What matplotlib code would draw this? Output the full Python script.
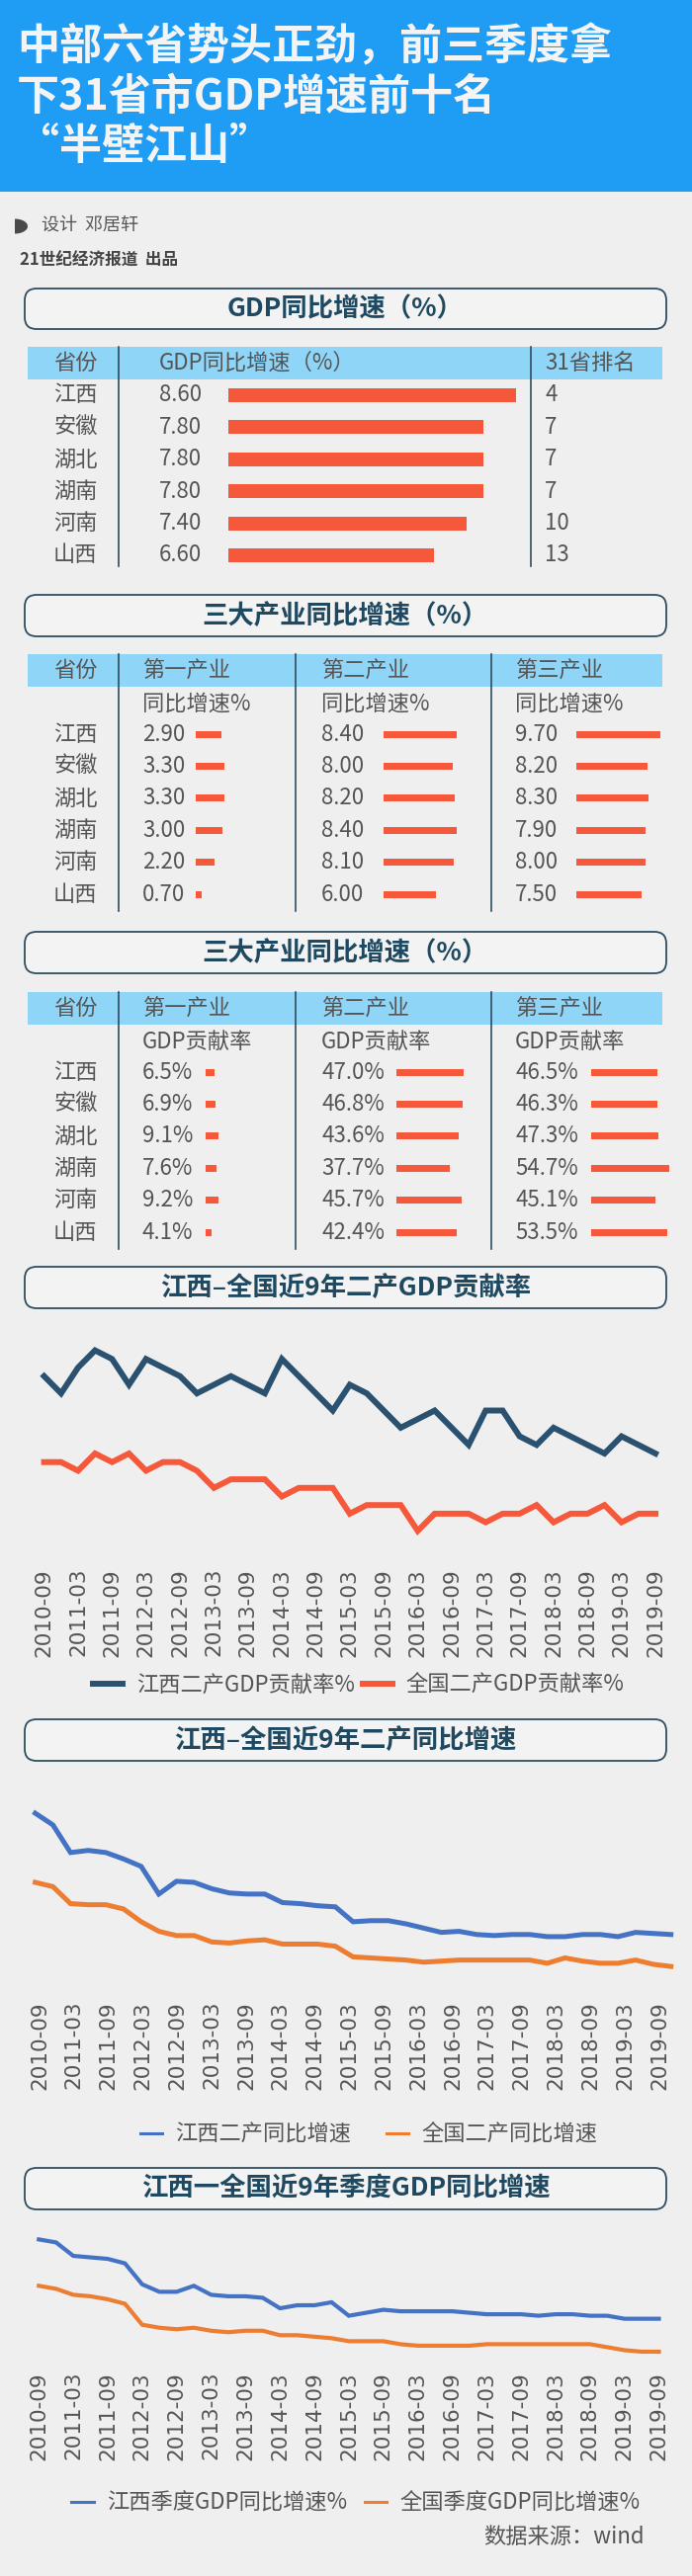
import numpy as np
import matplotlib
matplotlib.use("Agg")
import matplotlib.pyplot as plt
from matplotlib.patches import FancyBboxPatch, Rectangle
from matplotlib.lines import Line2D

plt.rcParams['font.family'] = ['Noto Sans CJK SC', 'DejaVu Sans']

# ---- data ----
provinces = ['江西', '安徽', '湖北', '湖南', '河南', '山西']
gdp_growth = [8.60, 7.80, 7.80, 7.80, 7.40, 6.60]
gdp_rank = [4, 7, 7, 7, 10, 13]

primary_growth = [2.90, 3.30, 3.30, 3.00, 2.20, 0.70]
secondary_growth = [8.40, 8.00, 8.20, 8.40, 8.10, 6.00]
tertiary_growth = [9.70, 8.20, 8.30, 7.90, 8.00, 7.50]

primary_contrib = [6.5, 6.9, 9.1, 7.6, 9.2, 4.1]
secondary_contrib = [47.0, 46.8, 43.6, 37.7, 45.7, 42.4]
tertiary_contrib = [46.5, 46.3, 47.3, 54.7, 45.1, 53.5]

tick_labels = ['2010-09', '2011-03', '2011-09', '2012-03', '2012-09', '2013-03',
               '2013-09', '2014-03', '2014-09', '2015-03', '2015-09', '2016-03',
               '2016-09', '2017-03', '2017-09', '2018-03', '2018-09', '2019-03',
               '2019-09']

# quarterly, 2010-09 .. 2019-09
jx_ind_contrib = [55, 53, 56, 58, 57, 54, 57, 56, 55, 53, 54, 55, 54, 53, 57, 55,
                  53, 51, 54, 53, 51, 49, 50, 51, 49, 47, 51, 51, 48, 47, 49, 48,
                  47, 46, 48, 47, 46]
cn_ind_contrib = [45, 45, 44, 46, 45, 46, 44, 45, 45, 44, 42, 43, 43, 43, 41, 42,
                  42, 42, 39, 40, 40, 40, 37, 39, 39, 39, 38, 39, 39, 40, 38, 39,
                  39, 40, 38, 39, 39]

# secondary industry growth, sampled roughly every quarter
jx_ind_growth = [20.0, 18.9, 16.3, 16.5, 16.3, 15.7, 15.0, 12.4, 13.6, 13.5, 12.9,
                 12.5, 12.4, 12.4, 11.6, 11.5, 11.3, 11.2, 9.8, 9.9, 9.9, 9.6, 9.2,
                 8.8, 8.9, 8.6, 8.5, 8.6, 8.6, 8.4, 8.4, 8.6, 8.6, 8.4, 8.8, 8.7, 8.6]
cn_ind_growth = [13.5, 13.1, 11.5, 11.4, 11.4, 11.0, 9.8, 8.9, 8.5, 8.5, 7.9, 7.8,
                 8.0, 8.1, 7.7, 7.7, 7.7, 7.5, 6.5, 6.4, 6.3, 6.2, 6.0, 6.1, 6.2,
                 6.2, 6.2, 6.2, 6.2, 5.9, 6.4, 6.1, 5.9, 5.9, 6.2, 5.8, 5.6]

jx_gdp_q = [13.7, 13.5, 12.6, 12.5, 12.4, 12.1, 10.7, 10.2, 10.2, 10.6, 10.0, 9.9,
            9.9, 9.8, 9.1, 9.3, 9.3, 9.5, 8.6, 8.8, 9.0, 8.9, 8.9, 8.9, 8.9, 8.8,
            8.7, 8.7, 8.7, 8.6, 8.7, 8.7, 8.6, 8.6, 8.4, 8.4, 8.4]
cn_gdp_q = [10.6, 10.4, 10.0, 9.9, 9.7, 9.4, 8.0, 7.8, 7.7, 7.8, 7.6, 7.5, 7.6,
            7.6, 7.3, 7.3, 7.2, 7.1, 6.9, 6.9, 6.9, 6.7, 6.6, 6.6, 6.6, 6.6, 6.7,
            6.7, 6.7, 6.7, 6.7, 6.7, 6.7, 6.5, 6.3, 6.2, 6.2]

# ---- style ----
W, H = 700, 2607
BG = '#efefef'
HEAD = '#1f9cf4'
BAND = '#8fd5f7'
DARK = '#2e4d60'
TITLE_C = '#1e4961'
TXT = '#555555'
RED = '#f5583a'
NAVY = '#2a5270'
XL_BLUE = '#4472c4'
XL_ORANGE = '#ed7d31'

fig = plt.figure(figsize=(W / 100, H / 100), dpi=100, facecolor=BG)
bg = fig.add_axes([0, 0, 1, 1])
bg.set_xlim(0, W)
bg.set_ylim(H, 0)
bg.axis('off')


def px_axes(x0, y0, x1, y1):
    return fig.add_axes([x0 / W, 1 - y1 / H, (x1 - x0) / W, (y1 - y0) / H])


def section_box(y0, y1, title):
    bg.add_patch(FancyBboxPatch((25, y0), 649, y1 - y0,
                                boxstyle='round,pad=0,rounding_size=12',
                                fc='#f3f3f3', ec=DARK, lw=1.3))
    bg.text(349.5, (y0 + y1) / 2, title, ha='center', va='center',
            fontsize=19, fontweight='bold', color=TITLE_C)


def t(x, y, s, **kw):
    kw.setdefault('fontsize', 16)
    kw.setdefault('color', TXT)
    bg.text(x, y, s, ha=kw.pop('ha', 'left'), va='center', **kw)


def bar_col(x0, width, lo, px_per_unit, row0, step, values, bar_h):
    ax = px_axes(x0, row0 - step / 2, x0 + width, row0 + step * 5.5)
    ax.barh(range(len(values)), values, height=bar_h / step, color=RED)
    ax.set_xlim(lo, lo + width / px_per_unit)
    ax.set_ylim(5.5, -0.5)
    ax.axis('off')


# ---- header ----
bg.add_patch(Rectangle((0, 0), W, 194, color=HEAD, lw=0))
for yy, line in zip([47, 98, 148], ['中部六省势头正劲，前三季度拿',
                                    '下31省市GDP增速前十名', '“半壁江山”']):
    bg.text(17, yy, line, ha='left', va='center', fontsize=31,
            fontweight='bold', color='#f4f4f4')

th = np.linspace(-np.pi / 2, np.pi / 2, 40)
bg.fill(np.r_[15, 15 + 13 * np.cos(th)], np.r_[229, 229 + 7.5 * np.sin(th)],
        color='#4a4a4a', lw=0)
t(42, 229, '设计  邓居轩', fontsize=13)
t(20, 264, '21世纪经济报道  出品', fontsize=12, fontweight='bold', color='#444444')

# ---- section 1 ----
section_box(292, 333, 'GDP同比增速（%）')
bg.add_patch(Rectangle((28, 351), 642, 33, color=BAND, lw=0))
t(54, 367, '省份')
t(161, 367, 'GDP同比增速（%）')
t(551, 367, '31省排名')
for x in [120, 537]:
    bg.plot([x, x], [351, 573], color=DARK, lw=1.2)
row0, step = 400, 32.4
for i, p in enumerate(provinces):
    y = row0 + i * step
    t(54, y, p)
    t(161, y, f'{gdp_growth[i]:.2f}')
    t(551, y, str(gdp_rank[i]))
bar_col(231, 300, 1.6, 41.6, row0, step, gdp_growth, 14)


# ---- sections 2 & 3 ----
def industry_table(y_box, y_band, sub, row0, cols, bar_x, ppu, fmt):
    section_box(y_box, y_box + 42, '三大产业同比增速（%）')
    bg.add_patch(Rectangle((28, y_band), 642, 33, color=BAND, lw=0))
    t(54, y_band + 16.5, '省份')
    for x, name in zip([144, 325, 521], ['第一产业', '第二产业', '第三产业']):
        t(x, y_band + 16.5, name)
        t(x, y_band + 50, sub)
    for x in [120, 299, 497]:
        bg.plot([x, x], [y_band, row0 + 5 * 32.4 + 17], color=DARK, lw=1.2)
    for i, p in enumerate(provinces):
        t(54, row0 + i * 32.4, p)
    for x, bx, vals in zip([144, 325, 521], bar_x, cols):
        for i, v in enumerate(vals):
            t(x, row0 + i * 32.4, fmt.format(v))
        bar_col(bx, 100, 0, ppu, row0, 32.4, vals, 7)


industry_table(602, 662, '同比增速%', 743,
               [primary_growth, secondary_growth, tertiary_growth],
               [198, 387.5, 582.6], 8.85, '{:.2f}')
industry_table(943, 1004, 'GDP贡献率', 1085,
               [primary_contrib, secondary_contrib, tertiary_contrib],
               [207.6, 401, 598], 1.44, '{:.1f}%')


# ---- line charts ----
def line_panel(box, title, rect, xlim, ylim, xs, series, colors, labels, lw,
               tick_pos, leg_xy, leg_kw, handle_lw):
    section_box(box, box + 42, title)
    ax = px_axes(*rect)
    ax.set_facecolor('none')
    for ys, c in zip(series, colors):
        ax.plot(xs, ys, color=c, lw=lw, solid_joinstyle='miter')
    ax.set_xlim(*xlim)
    ax.set_ylim(*ylim)
    for s in ax.spines.values():
        s.set_visible(False)
    ax.set_yticks([])
    ax.set_xticks(tick_pos)
    ax.set_xticklabels(tick_labels, rotation=90, fontsize=15.5, color=TXT,
                       family='DejaVu Sans')
    ax.tick_params(axis='x', length=0, pad=5)
    handles = [Line2D([], [], color=c, lw=handle_lw) for c in colors]
    ax.legend(handles, labels, loc='center', bbox_to_anchor=leg_xy,
              bbox_transform=bg.transData, ncol=2, frameon=False, fontsize=16,
              labelcolor=TXT, borderpad=0, **leg_kw)


q_idx = np.arange(len(jx_ind_contrib))
line_panel(1282, '江西–全国近9年二产GDP贡献率', (30, 1340, 678, 1580),
           (-0.85, 36.87), (33.47, 61.06), q_idx,
           [jx_ind_contrib, cn_ind_contrib], [NAVY, RED],
           ['江西二产GDP贡献率%', '全国二产GDP贡献率%'], 4.3,
           np.arange(0, 37, 2), (363, 1705),
           dict(handlelength=1.35, handletextpad=0.6, columnspacing=0.4), 4.3)

months = np.linspace(-0.75, 110, len(jx_ind_growth))
line_panel(1740, '江西–全国近9年二产同比增速', (25, 1810, 690, 2018),
           (-2.58, 111.95), (3.01, 22.32), months,
           [jx_ind_growth, cn_ind_growth], [XL_BLUE, XL_ORANGE],
           ['江西二产同比增速', '全国二产同比增速'], 3.6,
           np.arange(0, 109, 6), (373, 2160),
           dict(handlelength=1.0, handletextpad=0.6, columnspacing=1.6), 2.2)

line_panel(2194, '江西一全国近9年季度GDP同比增速', (25, 2245, 690, 2393),
           (-0.82, 37.35), (5.34, 15.11), q_idx,
           [jx_gdp_q, cn_gdp_q], [XL_BLUE, XL_ORANGE],
           ['江西季度GDP同比增速%', '全国季度GDP同比增速%'], 3.0,
           np.arange(0, 37, 2), (360, 2533),
           dict(handlelength=1.0, handletextpad=0.6, columnspacing=0.8), 2.2)

t(652, 2568, '数据来源：wind', ha='right')

fig.savefig('out.png', dpi=100, facecolor=BG)
